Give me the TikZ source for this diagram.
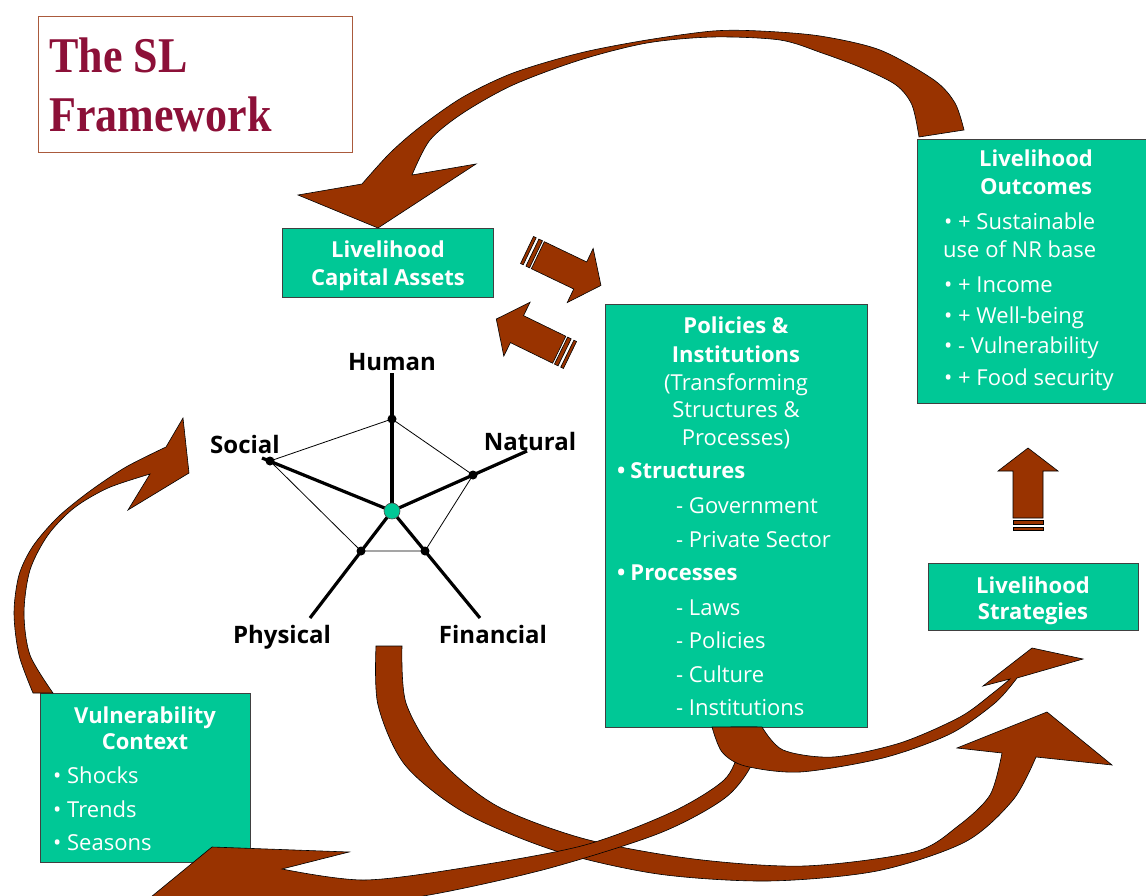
\documentclass[tikz,border=0pt]{standalone}
\usepackage{fontspec}
\setmainfont{Open Sans}
\newfontfamily\titlefont{Liberation Serif}
\definecolor{boxgreen}{RGB}{0,200,150}
\definecolor{arrowbrown}{RGB}{153,51,0}
\definecolor{titlered}{RGB}{140,16,56}
\definecolor{titleframe}{RGB}{170,90,60}

\tikzset{
  striped arrow/.pic={
    \filldraw[blockarrow] (0,-15) rectangle (3,15);
    \filldraw[blockarrow] (6,-15) rectangle (10,15);
    \filldraw[blockarrow] (12,-15) -- (59,-15) -- (59,-30) -- (82,0) -- (59,30) -- (59,15) -- (12,15) -- cycle;
  }
}

\begin{document}
\begin{tikzpicture}[x=1pt,y=-1pt,
  panel/.style={draw=black!75, line width=0.9pt, fill=boxgreen, inner sep=0, anchor=north west},
  hd/.style={text=white, font=\fontsize{22}{26}\selectfont\bfseries, inner sep=0},
  tx/.style={text=white, font=\fontsize{22}{26}\selectfont, inner sep=0},
  lab/.style={font=\fontsize{24}{29}\selectfont\bfseries, inner sep=0, anchor=base},
  ttl/.style={font=\titlefont\fontsize{50}{55}\selectfont\bfseries, text=titlered, inner sep=0, anchor=base west},
  blockarrow/.style={fill=arrowbrown, draw=black, line width=0.6pt, line join=miter},
  axisline/.style={line width=3.2pt},
  rim/.style={line width=0.8pt},
  dot/.style={circle, fill=black, inner sep=0, minimum size=9pt},
]
\useasboundingbox (0,0) rectangle (1146,896);
\clip (0,0) rectangle (1146,896);
\fill[white] (0,0) rectangle (1146,896);

% ---------- title ----------
\node[draw=titleframe, line width=1pt, minimum width=314pt, minimum height=136pt, inner sep=0, anchor=north west] (titlebox) at (38,16) {};
\node[ttl] (title1) at (49,73) {\scalebox{0.88}[1]{The SL}};
\node[ttl] (title2) at (49,132) {\scalebox{0.88}[1]{Framework}};

% ---------- boxes ----------
\node[panel, minimum width=211pt, minimum height=69pt] (assets) at (282,228) {};
\node[panel, minimum width=262pt, minimum height=423pt] (policies) at (605,304) {};
\node[panel, minimum width=240pt, minimum height=264pt] (outcomes) at (917,139) {};
\node[panel, minimum width=210pt, minimum height=67pt] (strategies) at (928,563) {};
\node[panel, minimum width=210pt, minimum height=169pt] (vulner) at (40,693) {};

% capital assets
\node[hd, anchor=base] (as1) at (388,258) {Livelihood};
\node[hd, anchor=base] (as2) at (388,285) {Capital Assets};

% policies and institutions
\node[hd, anchor=base] (pi1) at (736,333) {Policies \&};
\node[hd, anchor=base] (pi2) at (736,362) {Institutions};
\node[tx, anchor=base] (pi3) at (736,390) {(Transforming};
\node[tx, anchor=base] (pi4) at (736,417) {Structures \&};
\node[tx, anchor=base] (pi5) at (736,445) {Processes)};
\node[hd, anchor=base west] (pi6) at (617,478) {•\hspace{5pt}Structures};
\node[tx, anchor=base west] (pi7) at (676,513) {- Government};
\node[tx, anchor=base west] (pi8) at (676,547) {- Private Sector};
\node[hd, anchor=base west] (pi9) at (617,580) {•\hspace{5pt}Processes};
\node[tx, anchor=base west] (pi10) at (676,615) {- Laws};
\node[tx, anchor=base west] (pi11) at (676,648) {- Policies};
\node[tx, anchor=base west] (pi12) at (676,682) {- Culture};
\node[tx, anchor=base west] (pi13) at (676,715) {- Institutions};

% outcomes
\node[hd, anchor=base] (lo1) at (1036,167) {Livelihood};
\node[hd, anchor=base] (lo2) at (1036,195) {Outcomes};
\node[tx, anchor=base west] (lo3) at (944,230) {• + Sustainable};
\node[tx, anchor=base west] (lo4) at (943,258) {use of NR base};
\node[tx, anchor=base west] (lo5) at (944,292) {• + Income};
\node[tx, anchor=base west] (lo6) at (944,323) {• + Well-being};
\node[tx, anchor=base west] (lo7) at (944,353) {• - Vulnerability};
\node[tx, anchor=base west] (lo8) at (944,385) {• + Food security};

% strategies
\node[hd, anchor=base] (ls1) at (1033,593) {Livelihood};
\node[hd, anchor=base] (ls2) at (1033,619) {Strategies};

% vulnerability context
\node[hd, anchor=base] (vc1) at (145,723) {Vulnerability};
\node[hd, anchor=base] (vc2) at (145,749) {Context};
\node[tx, anchor=base west] (vc3) at (53,783) {• Shocks};
\node[tx, anchor=base west] (vc4) at (53,817) {• Trends};
\node[tx, anchor=base west] (vc5) at (53,850) {• Seasons};

% ---------- asset pentagon ----------
\coordinate (hE) at (392,373);
\coordinate (nE) at (527,451);
\coordinate (fE) at (480,618);
\coordinate (pE) at (310,618);
\coordinate (sE) at (262,458);
\coordinate (hub) at (392,511);
\draw[rim] (392,419) -- (473,475) -- (425,551) -- (361,551) -- (270,461) -- cycle;
\foreach \e in {hE,nE,fE,pE,sE} \draw[axisline] (hub) -- (\e);
\node[dot] (hD) at (392,419) {};
\node[dot] (nD) at (473,475) {};
\node[dot] (fD) at (425,551) {};
\node[dot] (pD) at (361,551) {};
\node[dot] (sD) at (270,461) {};
\node[circle, draw=black!70, line width=0.6pt, fill=boxgreen, minimum size=16pt, inner sep=0] (hubdot) at (hub) {};

\node[lab] (lh) at (392,370) {Human};
\node[lab] (ln) at (530,450) {Natural};
\node[lab] (lso) at (245,453) {Social};
\node[lab] (lp) at (282,643) {Physical};
\node[lab] (lf) at (493,643) {Financial};

% ---------- curved arrows ----------
% outcomes back to capital assets
\filldraw[blockarrow]
  plot[smooth,tension=.5] coordinates {(964,130) (955,103) (934,80) (880,50) (820,36) (760,31) (713,31) (647,40) (580,53) (513,73) (463,97) (420,127) (390,153) (362,184)}
  -- (298,195) -- (378,228) -- (476,164) -- (412,175)
  -- plot[smooth,tension=.5] coordinates {(412,175) (430,140) (463,113) (513,85) (580,60) (647,43) (713,37) (780,40) (822,53) (862,68) (896,85) (912,105) (919,137)}
  -- cycle;

% vulnerability up to the assets
\filldraw[blockarrow]
  plot[smooth,tension=.5] coordinates {(33,693) (19,655) (14,613) (19,575) (33,546) (58,517) (90,491) (126,467) (166,447)}
  -- (183,418) -- (189,473) -- (128,510) -- (150,474)
  -- plot[smooth,tension=.5] coordinates {(150,474) (108,488) (74,508) (48,535) (30,570) (24,613) (30,655) (53,693)}
  -- cycle;

% assets round to strategies
\filldraw[blockarrow]
  plot[smooth,tension=.5] coordinates {(376,646) (378,705) (405,765) (465,813) (556,851) (658,874) (768,881) (877,871) (965,842) (1013,800) (1036,757)}
  -- (1112,765) -- (1047,712) -- (957,748) -- (1002,753)
  -- plot[smooth,tension=.5] coordinates {(1002,753) (990,795) (958,826) (914,852) (804,866) (694,859) (585,839) (497,806) (439,759) (406,703) (402,646)}
  -- cycle;

% policies back to vulnerability
\filldraw[blockarrow]
  plot[smooth,tension=.5] coordinates {(757,727) (753,762) (725,798) (660,833) (550,868) (440,893) (340,908) (250,915) (200,906)}
  -- (140,906) -- (212,847) -- (349,852) -- (282,869)
  -- plot[smooth,tension=.5] coordinates {(282,869) (365,880) (475,866) (585,845) (672,812) (724,780) (738,750) (731,727)}
  -- cycle;

% policies to strategies
\filldraw[blockarrow]
  plot[smooth,tension=.5] coordinates {(712,727) (722,752) (745,766) (800,772) (883,758) (950,734) (995,703) (1017,678)}
  -- (1083,659) -- (1032,648) -- (983,686) -- (1010,679)
  -- plot[smooth,tension=.5] coordinates {(1010,679) (993,693) (960,717) (900,743) (833,757) (783,750) (762,727)}
  -- cycle;

% ---------- striped arrows ----------
\pic[rotate=-25.6] (toPol) at (527,250) {striped arrow};
\pic[rotate=154] (toAss) at (570,355) {striped arrow};
\pic[rotate=90] (toOut) at (1028,530) {striped arrow};
\end{tikzpicture}
\end{document}
